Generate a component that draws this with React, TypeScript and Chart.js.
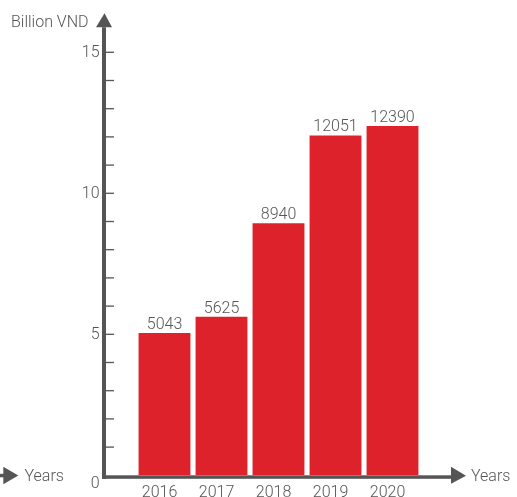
import { useEffect, useRef } from "react";
import { Chart, registerables } from "chart.js";

Chart.register(...registerables);

const years: string[] = ["2016", "2017", "2018", "2019", "2020"];
const revenue: number[] = [5043, 5625, 8940, 12051, 12390];
const yMax = 15000;
const yStep = 1000;
const yLabelEvery = 5000;
const yTickLabels: string[] = ["0", "5", "10", "15"];
const yAxisTitle = "Billion VND";
const xAxisTitle = "Years";

const AXIS = "#555555";
const TEXT = "#555555";
const BAR = "#DE222C";
const FONT = "300 16px Roboto, 'Noto Sans', sans-serif";

const axesPlugin = {
  id: "customAxes",
  afterDatasetsDraw(chart: any) {
    const { ctx, chartArea } = chart;
    const ys = chart.scales.y;
    const xs = chart.scales.x;
    const y0 = ys.getPixelForValue(0);
    const axisX = chartArea.left - 32;
    const xEnd = chartArea.right + 32;
    ctx.save();
    ctx.fillStyle = AXIS;
    ctx.strokeStyle = AXIS;

    // y axis line + arrow
    ctx.fillRect(axisX - 2, chartArea.top - 25, 4, y0 - chartArea.top + 25 + 3.5);
    ctx.beginPath();
    ctx.moveTo(axisX - 8, chartArea.top - 25);
    ctx.lineTo(axisX + 8, chartArea.top - 25);
    ctx.lineTo(axisX + 0.5, chartArea.top - 39);
    ctx.closePath();
    ctx.fill();

    // x axis line + arrow
    ctx.fillRect(axisX - 2, y0, xEnd - axisX, 3.5);
    ctx.beginPath();
    ctx.moveTo(xEnd - 2, y0 - 8.5);
    ctx.lineTo(xEnd - 2, y0 + 8.5);
    ctx.lineTo(xEnd + 13, y0 + 0.5);
    ctx.closePath();
    ctx.fill();

    // left stub arrow
    ctx.fillRect(0, y0 - 1.5, 6, 3.5);
    ctx.beginPath();
    ctx.moveTo(3.3, y0 - 8.5);
    ctx.lineTo(3.3, y0 + 9);
    ctx.lineTo(18.3, y0 + 0.3);
    ctx.closePath();
    ctx.fill();

    // y ticks
    ctx.lineWidth = 1.3;
    for (let v = yStep; v <= yMax; v += yStep) {
      const py = ys.getPixelForValue(v);
      ctx.beginPath();
      ctx.moveTo(axisX + 2, py);
      ctx.lineTo(axisX + 10, py);
      ctx.stroke();
    }

    ctx.font = FONT;
    ctx.fillStyle = TEXT;
    // y tick labels
    ctx.textAlign = "right";
    ctx.textBaseline = "alphabetic";
    for (let i = 0; i < yTickLabels.length; i++) {
      const v = i * yLabelEvery;
      const py = ys.getPixelForValue(v);
      ctx.fillText(yTickLabels[i], axisX - 4.5, v === 0 ? py + 13 : py + 4.5);
    }

    // x labels
    ctx.textAlign = "center";
    years.forEach((yr, i) => {
      ctx.fillText(yr, xs.getPixelForValue(i) - 5, 496.5);
    });

    // data labels
    revenue.forEach((val, i) => {
      ctx.fillText(String(val), xs.getPixelForValue(i), ys.getPixelForValue(val) - 4);
    });

    // titles
    ctx.textAlign = "left";
    ctx.fillText(yAxisTitle, 11, chartArea.top - 25);
    ctx.fillText(xAxisTitle, xEnd + 18, y0 + 5.7);
    ctx.fillText(xAxisTitle, 24.5, y0 + 5.7);
    ctx.restore();
  },
};

export default function App() {
  const ref = useRef<HTMLCanvasElement | null>(null);
  useEffect(() => {
    if (!ref.current) return;
    const chart = new Chart(ref.current, {
      type: "bar",
      data: {
        labels: years,
        datasets: [
          {
            data: revenue,
            backgroundColor: BAR,
            borderWidth: 0,
            barPercentage: 0.91,
            categoryPercentage: 1,
          },
        ],
      },
      options: {
        responsive: false,
        animation: false,
        layout: { padding: { left: 136, right: 96, top: 52.3, bottom: 21.7 } },
        plugins: { legend: { display: false }, tooltip: { enabled: false } },
        scales: {
          x: { display: false, offset: true },
          y: { display: false, min: 0, max: yMax, ticks: { stepSize: yStep } },
        },
      },
      plugins: [axesPlugin],
    });
    return () => chart.destroy();
  }, []);
  return (
    <div style={{ position: "absolute", left: 0, top: 0, width: 517, height: 497 }}>
      <canvas ref={ref} width={517} height={497} style={{ display: "block" }} />
    </div>
  );
}
